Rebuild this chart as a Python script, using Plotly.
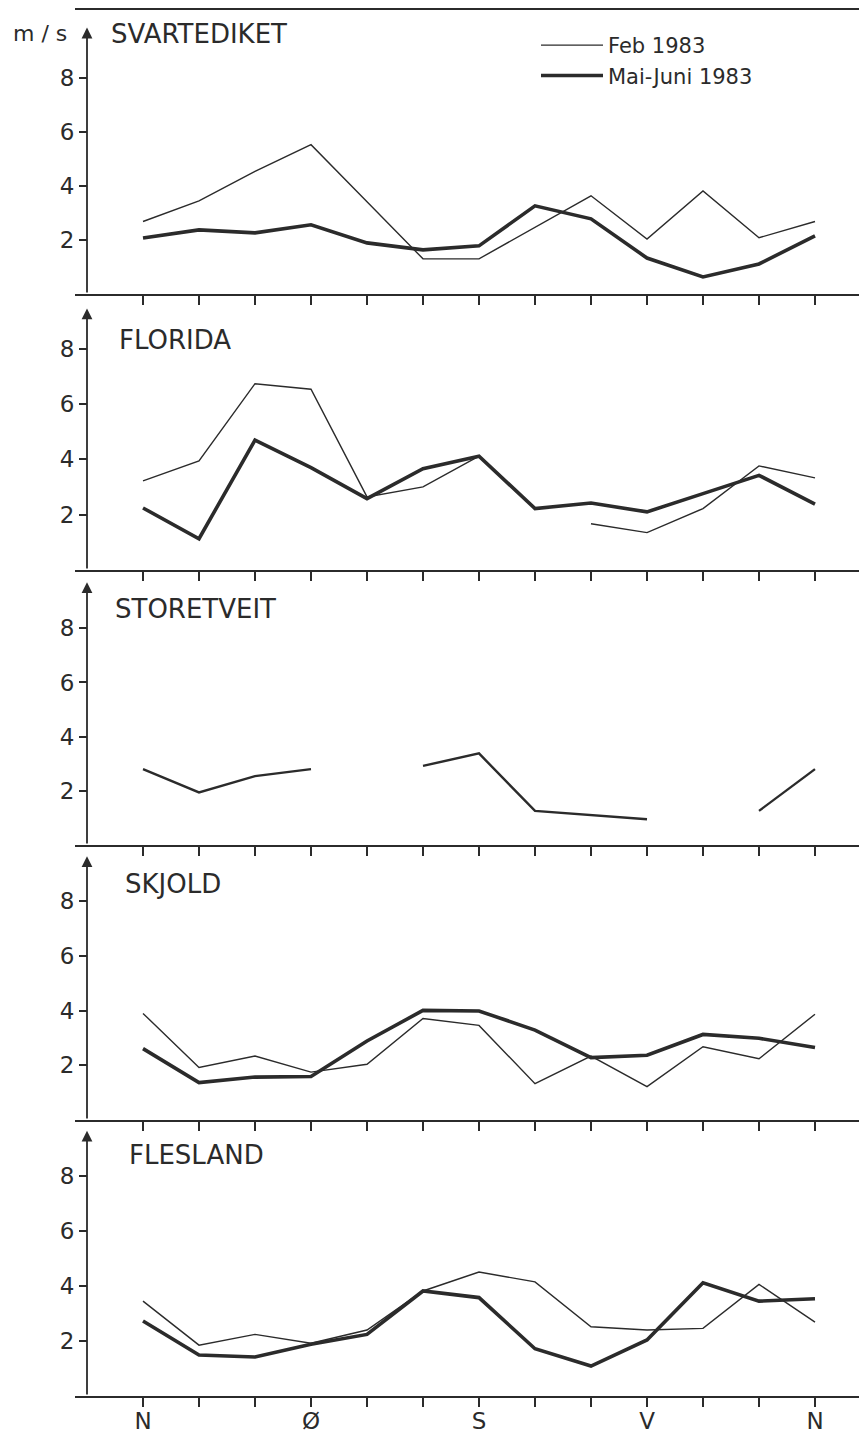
import plotly.graph_objects as go

# ---------------- data ----------------
direction_idx = list(range(13))
direction_labels = ["N", "", "", "Ø", "", "", "S", "", "", "V", "", "", "N"]
stations = ["SVARTEDIKET", "FLORIDA", "STORETVEIT", "SKJOLD", "FLESLAND"]
series_names = ["Feb 1983", "Mai-Juni 1983"]

svartediket_feb = [2.68, 3.44, 4.53, 5.52, 3.41, 1.30, 1.30, 2.47, 3.63, 2.03, 3.81, 2.08, 2.68]
svartediket_mai = [2.07, 2.37, 2.26, 2.56, 1.89, 1.63, 1.78, 3.26, 2.78, 1.33, 0.63, 1.11, 2.15]
florida_feb = [3.22, 3.94, 6.73, 6.53, 2.64, 3.00, 4.11, None, 1.67, 1.35, 2.22, 3.76, 3.33]
florida_mai = [2.24, 1.13, 4.69, 3.70, 2.58, 3.66, 4.11, 2.22, 2.42, 2.10, 2.76, 3.42, 2.38]
storetveit_vals = [2.80, 1.94, 2.54, 2.80, None, 2.92, 3.38, 1.26, 1.10, 0.95, None, 1.26, 2.80]
skjold_feb = [3.90, 1.92, 2.34, 1.75, 2.04, 3.71, 3.46, 1.33, 2.34, 1.22, 2.68, 2.24, 3.87]
skjold_mai = [2.61, 1.37, 1.57, 1.59, 2.89, 4.01, 3.99, 3.29, 2.28, 2.37, 3.13, 2.99, 2.65]
flesland_feb = [3.45, 1.85, 2.24, 1.92, 2.40, 3.82, 4.51, 4.15, 2.52, 2.40, 2.46, 4.06, 2.69]
flesland_mai = [2.73, 1.49, 1.42, 1.88, 2.24, 3.82, 3.58, 1.72, 1.09, 2.04, 4.12, 3.45, 3.54]

y_ticks = [2, 4, 6, 8]

panel_feb = [svartediket_feb, florida_feb, storetveit_vals, skjold_feb, flesland_feb]
panel_mai = [svartediket_mai, florida_mai, None, skjold_mai, flesland_mai]

# ---------------- layout geometry ----------------
W, H = 859, 1435
M_T, M_B, M_L, M_R = 10, 39, 75, 0
row_px = [284, 276, 275, 275, 276]
y_tops = [10.5, 9.97, 10.15, 10.06, 10.04]
arrow_tips = [9.85, 9.45, 9.7, 9.65, 9.65]
label_y = [9.6, 8.3, 8.7, 8.65, 8.75]
label_x = [-0.6, -0.46, -0.53, -0.35, -0.28]
plot_h = H - M_T - M_B
plot_w = W - M_L - M_R
x_range = [-1 - 12 / 56, 12 + (859 - 815) / 56]

INK = "#2b2b2b"
FONT = "DejaVu Sans"

fig = go.Figure()
layout = dict(
    width=W, height=H,
    margin=dict(t=M_T, b=M_B, l=M_L, r=M_R),
    paper_bgcolor="white", plot_bgcolor="white",
    font=dict(family=FONT, color=INK),
    showlegend=True,
    legend=dict(
        x=(536 - M_L) / plot_w, y=1 - (25 - M_T) / plot_h,
        xanchor="left", yanchor="top",
        bgcolor="rgba(0,0,0,0)", borderwidth=0,
        font=dict(size=21, family=FONT, color=INK),
        itemwidth=62, tracegroupgap=0,
    ),
)
annotations = []

top = plot_h
for i, st in enumerate(stations):
    k = "" if i == 0 else str(i + 1)
    xa, ya = "x" + k, "y" + k
    bottom = top - row_px[i]
    dom = [bottom / plot_h, top / plot_h]
    top = bottom

    feb = panel_feb[i]
    mai = panel_mai[i]
    if mai is None:
        fig.add_trace(go.Scatter(x=direction_idx, y=feb, mode="lines", xaxis=xa, yaxis=ya,
                                 line=dict(color=INK, width=2.4), showlegend=False,
                                 name=st, connectgaps=False))
    else:
        fig.add_trace(go.Scatter(x=direction_idx, y=feb, mode="lines", xaxis=xa, yaxis=ya,
                                 line=dict(color=INK, width=1.4), name=series_names[0],
                                 showlegend=(i == 0), legendgroup="feb", connectgaps=False))
        fig.add_trace(go.Scatter(x=direction_idx, y=mai, mode="lines", xaxis=xa, yaxis=ya,
                                 line=dict(color=INK, width=3.6), name=series_names[1],
                                 showlegend=(i == 0), legendgroup="mai", connectgaps=False))

    layout["xaxis" + k] = dict(
        domain=[0, 1], anchor=ya, range=x_range,
        tickmode="array", tickvals=direction_idx, ticktext=direction_labels,
        showticklabels=(i == len(stations) - 1),
        ticks="outside", ticklen=9, tickwidth=1.5, tickcolor=INK,
        ticklabelstandoff=-6,
        showline=True, linecolor=INK, linewidth=2.2,
        mirror=(i == 0), showgrid=False, zeroline=False,
        tickfont=dict(size=23, family=FONT, color=INK),
    )
    layout["yaxis" + k] = dict(
        domain=dom, anchor="free", position=12 / plot_w, range=[0, y_tops[i]],
        tickmode="array", tickvals=y_ticks, ticktext=[str(v) for v in y_ticks],
        ticks="outside", ticklen=8, tickwidth=1.5, tickcolor=INK,
        showline=False, showgrid=False, zeroline=False,
        tickfont=dict(size=23, family=FONT, color=INK),
    )
    # y axis line with arrow head
    annotations.append(dict(
        x=-1, y=arrow_tips[i], ax=-1, ay=0, xref=xa, yref=ya, axref=xa, ayref=ya,
        showarrow=True, arrowhead=2, arrowsize=1.2, arrowwidth=1.8, arrowcolor=INK,
        text="", standoff=0, startstandoff=0,
    ))
    # station name
    annotations.append(dict(
        x=label_x[i], y=label_y[i], xref=xa, yref=ya, text=st, showarrow=False,
        xanchor="left", yanchor="middle", font=dict(size=26, family=FONT, color=INK),
    ))

annotations.append(dict(
    x=(40 - M_L) / plot_w, y=1 - (33 - M_T) / plot_h, xref="paper", yref="paper",
    text="m / s", showarrow=False, xanchor="center", yanchor="middle",
    font=dict(size=22, family=FONT, color=INK),
))
layout["annotations"] = annotations
fig.update_layout(**layout)

fig.write_html("out.html", config={"displayModeBar": False},
               post_script="document.body.style.margin='0px';")
